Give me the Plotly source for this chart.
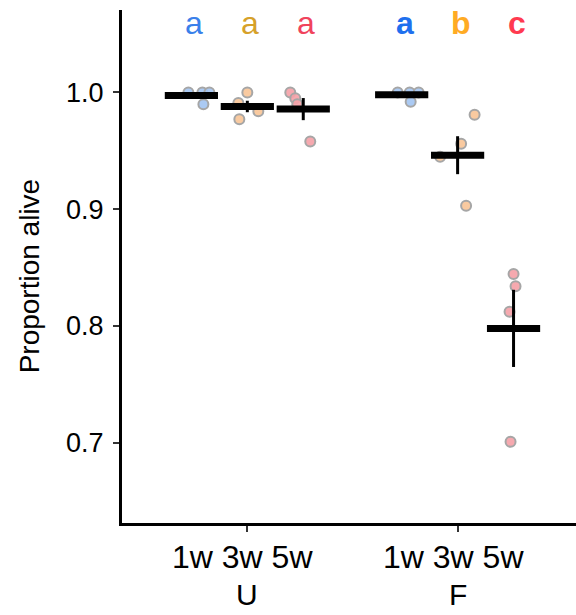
import numpy as np
import plotly.graph_objects as go

# ---- data ----
groups = ["U", "F"]
times = ["1w", "3w", "5w"]
values = {
    ("U", "1w"): [1.000, 1.000, 1.000, 0.990],
    ("U", "3w"): [1.000, 0.991, 0.984, 0.977],
    ("U", "5w"): [1.000, 0.995, 0.990, 0.958],
    ("F", "1w"): [1.000, 1.000, 1.000, 0.992],
    ("F", "3w"): [0.981, 0.956, 0.945, 0.903],
    ("F", "5w"): [0.8445, 0.834, 0.812, 0.7007],
}
# horizontal jitter of each point (in px, relative to its column)
jitter_px = {
    ("U", "1w"): [-3, 11, 18, 12],
    ("U", "3w"): [0, -9, 11, -8],
    ("U", "5w"): [-13, -8, -6, 7],
    ("F", "1w"): [-4, 8, 17, 9],
    ("F", "3w"): [17, 3.5, -17.5, 8.5],
    ("F", "5w"): [0, 2, -4, -3],
}
letters = {("U", "1w"): "a", ("U", "3w"): "a", ("U", "5w"): "a",
           ("F", "1w"): "a", ("F", "3w"): "b", ("F", "5w"): "c"}
sub_label = "1w 3w 5w"

# ---- styles ----
point_fill = {"1w": "rgba(164,198,242,0.92)", "3w": "rgba(249,198,152,0.92)", "5w": "rgba(245,162,168,0.92)"}
letter_col = {("U", "1w"): "#3a80ea", ("U", "3w"): "#d6a12a", ("U", "5w"): "#f0435c",
              ("F", "1w"): "#1f70ee", ("F", "3w"): "#ffab24", ("F", "5w"): "#ff3a50"}
group_pos = {"U": 1.0, "F": 2.0}
offset = {"1w": -0.266, "3w": 0.0, "5w": 0.266}
px_per_unit = 210.5
FONT = "Liberation Sans, Arial, sans-serif"

fig = go.Figure()

mean_x, mean_y, se_y = [], [], []
for g in groups:
    for t in times:
        v = np.array(values[(g, t)])
        cx = group_pos[g] + offset[t]
        xs = [cx + j / px_per_unit for j in jitter_px[(g, t)]]
        fig.add_trace(go.Scatter(
            x=xs, y=v, mode="markers",
            marker=dict(size=10, color=point_fill[t], line=dict(color="#a6a6a6", width=2)),
            showlegend=False, hoverinfo="y"))
        mean_x.append(cx)
        mean_y.append(v.mean())
        se_y.append(v.std(ddof=1) / np.sqrt(len(v)))

# error bars (SE)
fig.add_trace(go.Scatter(
    x=mean_x, y=mean_y, mode="markers",
    marker=dict(size=1, color="rgba(0,0,0,0)"),
    error_y=dict(type="data", array=se_y, visible=True, thickness=3, width=0, color="black"),
    showlegend=False, hoverinfo="skip"))
# mean bars
fig.add_trace(go.Scatter(
    x=mean_x, y=mean_y, mode="markers",
    marker=dict(symbol="line-ew", size=38, line=dict(width=7, color="black")),
    showlegend=False, hoverinfo="y"))

# significance letters
for g in groups:
    for t in times:
        fig.add_annotation(
            x=group_pos[g] + offset[t] + 3 / px_per_unit, y=1.0595, xref="x", yref="y",
            text=(f"<b>{letters[(g, t)]}</b>" if g == "F" else letters[(g, t)]),
            showarrow=False, font=dict(family=FONT, size=32, color=letter_col[(g, t)]),
            yanchor="middle")
    fig.add_annotation(
        x=group_pos[g] - 4.5 / px_per_unit, y=-0.066, xref="x", yref="paper",
        text=sub_label, showarrow=False, font=dict(family=FONT, size=32, color="black"),
        yanchor="middle", xanchor="center")
    fig.add_annotation(
        x=group_pos[g], y=-0.140, xref="x", yref="paper",
        text=g, showarrow=False, font=dict(family=FONT, size=30, color="black"),
        yanchor="middle")

fig.add_annotation(
    x=-0.2046, y=0.481, xref="paper", yref="paper", text="Proportion alive",
    textangle=-90, showarrow=False, xanchor="center", yanchor="middle",
    font=dict(family=FONT, size=28, color="black"))

fig.update_layout(
    width=576, height=615,
    margin=dict(l=122, r=0, t=10, b=92),
    plot_bgcolor="white", paper_bgcolor="white",
    font=dict(family=FONT, size=26, color="black"),
    xaxis=dict(range=[0.404, 2.563], showgrid=False, zeroline=False,
               showline=True, linewidth=3, linecolor="black",
               tickvals=[1, 2], ticktext=["", ""], ticks="outside",
               ticklen=6, tickwidth=2, tickcolor="#333333"),
    yaxis=dict(range=[0.631, 1.0707], showgrid=False, zeroline=False,
               showline=True, linewidth=3, linecolor="black",
               tickvals=[0.7, 0.8, 0.9, 1.0], ticktext=["0.7", "0.8", "0.9", "1.0"],
               ticks="outside", ticklen=6, tickwidth=2, tickcolor="#333333",
               ticklabelstandoff=4,
               tickfont=dict(family=FONT, size=27, color="black")),
)

fig.write_html("out.html", config={"displayModeBar": False},
               post_script="document.body.style.margin='0';document.body.style.overflow='hidden';")
